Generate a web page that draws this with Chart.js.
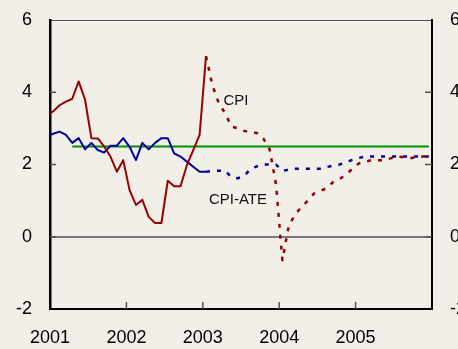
<!DOCTYPE html>
<html>
<head>
<meta charset="utf-8">
<script src="https://cdn.jsdelivr.net/npm/chart.js@4.4.1/dist/chart.umd.min.js"></script>
<style>
  html, body { margin: 0; padding: 0; background: #f2efe9; overflow: hidden; }
  #wrap { width: 458px; height: 349px; }
</style>
</head>
<body>
<div id="wrap"><canvas id="grafico" width="458" height="349"></canvas></div>
<script>
// 12-month inflation (%), monthly; first value is Dec 2000, last is Jan 2003
const cpi = [3.37, 3.47, 3.64, 3.74, 3.82, 4.30, 3.80, 2.73, 2.72, 2.50, 2.22, 1.80, 2.12,
             1.29, 0.88, 1.02, 0.55, 0.38, 0.38, 1.55, 1.40, 1.40, 1.98, 2.40, 2.82, 5.00];
const cpiAte = [2.78, 2.85, 2.91, 2.82, 2.60, 2.73, 2.42, 2.60, 2.40, 2.33, 2.52, 2.52, 2.73,
                2.49, 2.12, 2.60, 2.42, 2.60, 2.73, 2.73, 2.31, 2.22, 2.08, 1.94, 1.80, 1.80];

// projections, Jan 2003 to Dec 2005
const cpiProj = [5.00, 4.20, 3.70, 3.42, 3.05, 3.00, 2.93, 2.89, 2.87, 2.72, 2.42, 1.45,
                 -0.65, 0.30, 0.62, 0.82, 1.00, 1.20, 1.27, 1.35, 1.52, 1.60, 1.72, 1.88,
                 2.03, 2.08, 2.12, 2.12, 2.12, 2.17, 2.22, 2.20, 2.17, 2.20, 2.22, 2.22];
const cpiAteProj = [1.80, 1.82, 1.83, 1.83, 1.65, 1.62, 1.68, 1.88, 1.95, 2.00, 2.00, 2.00,
                    1.82, 1.86, 1.88, 1.88, 1.88, 1.88, 1.88, 1.93, 1.97, 2.00, 2.06, 2.13,
                    2.18, 2.22, 2.22, 2.22, 2.22, 2.22, 2.22, 2.22, 2.22, 2.22, 2.22, 2.22];

// inflation target, Apr 2001 to Dec 2005
const meta = [2.5, 2.5];

const anos = [2001, 2002, 2003, 2004, 2005];
const yTicks = [-2, 0, 2, 4, 6];

// month (1-12) -> decimal year, plotted mid-month
const pos = (ano, mes) => ano + (mes - 0.5) / 12;

function serie(valores, ano, mes) {
    return valores.map((v, i) => {
        const m = mes - 1 + i;
        return { x: pos(ano + Math.floor(m / 12), (m % 12) + 1), y: v };
    });
}

const vermelho = '#990000';
const azul = '#000099';
const verde = '#009000';

// text next to the lines, in data coordinates
const rotulos = [
    { text: 'CPI', x: 2003.27, y: 3.76 },
    { text: 'CPI-ATE', x: 2003.08, y: 1.02 }
];

// short tick marks pointing into the plot + line labels
const marcasInternas = {
    id: 'marcasInternas',
    afterDatasetsDraw(chart) {
        const { ctx, chartArea: a, scales } = chart;
        ctx.save();
        ctx.lineWidth = 1.5;
        ctx.strokeStyle = '#555';
        ctx.beginPath();
        anos.slice(1).forEach(v => {
            const x = scales.x.getPixelForValue(v);
            ctx.moveTo(x, a.bottom);
            ctx.lineTo(x, a.bottom - 7);
        });
        yTicks.slice(1, -1).forEach(v => {
            const y = scales.y.getPixelForValue(v);
            ctx.moveTo(a.left, y);
            ctx.lineTo(a.left + 6, y);
            ctx.moveTo(a.right, y);
            ctx.lineTo(a.right - 7, y);
        });
        ctx.stroke();

        ctx.font = '15px "Liberation Sans", Arial, sans-serif';
        ctx.fillStyle = '#111';
        ctx.textAlign = 'left';
        ctx.textBaseline = 'middle';
        rotulos.forEach(r => {
            ctx.fillText(r.text, scales.x.getPixelForValue(r.x), scales.y.getPixelForValue(r.y));
        });
        ctx.restore();
    }
};

Chart.defaults.font.family = '"Liberation Sans", Arial, sans-serif';

const fonteEixo = { size: 18 };

// fixed axis sizes; the label overhang must not push the plot area in
function larguraFixa(w) {
    return s => {
        s.width = w;
        s.paddingTop = 0;
        s.paddingBottom = 0;
    };
}
function alturaFixa(h) {
    return s => {
        s.height = h;
        s.paddingLeft = 0;
        s.paddingRight = 0;
    };
}

new Chart(document.getElementById('grafico'), {
    type: 'line',
    data: {
        datasets: [
            {
                data: serie(cpi, 2000, 12),
                borderColor: vermelho, borderWidth: 2, order: 1
            },
            {
                data: serie(cpiAte, 2000, 12),
                borderColor: azul, borderWidth: 2, order: 2
            },
            {
                data: serie(cpiProj, 2003, 1),
                borderColor: vermelho, borderWidth: 2.5, borderDash: [4, 7], order: 1
            },
            {
                data: serie(cpiAteProj, 2003, 1),
                borderColor: azul, borderWidth: 2.5, borderDash: [4, 7], order: 2
            },
            {
                data: [{ x: pos(2001, 4), y: meta[0] }, { x: pos(2005, 12), y: meta[1] }],
                borderColor: verde, borderWidth: 2, order: 3
            }
        ]
    },
    options: {
        responsive: false,
        animation: false,
        events: [],
        layout: { padding: 0 },
        datasets: {
            line: {
                pointRadius: 0, tension: 0, clip: 0,
                borderCapStyle: 'butt', borderJoinStyle: 'round'
            }
        },
        plugins: {
            legend: { display: false },
            tooltip: { enabled: false }
        },
        scales: {
            x: {
                type: 'linear',
                position: 'bottom',
                min: 2001,
                max: 2006,
                afterBuildTicks: s => { s.ticks = anos.map(v => ({ value: v })); },
                afterFit: alturaFixa(40),
                grid: { display: false, drawTicks: false },
                border: { color: '#000', width: 2 },
                ticks: {
                    padding: 18, color: '#000', font: fonteEixo,
                    autoSkip: false, maxRotation: 0,
                    callback: v => String(v)
                }
            },
            // only draws the thin frame line along the top
            xTop: {
                type: 'linear',
                position: 'top',
                min: 2001,
                max: 2006,
                afterFit: alturaFixa(20),
                grid: { display: false, drawTicks: false },
                border: { color: '#555', width: 1 },
                ticks: { display: false }
            },
            y: {
                position: 'left',
                min: -2,
                max: 6,
                afterBuildTicks: s => { s.ticks = yTicks.map(v => ({ value: v })); },
                afterFit: larguraFixa(50),
                grid: {
                    drawTicks: false,
                    lineWidth: 2,
                    color: c => (c.tick && c.tick.value === 0) ? '#7a7a7a' : 'rgba(0,0,0,0)'
                },
                border: { color: '#000', width: 2.5 },
                ticks: { padding: 18, color: '#000', font: fonteEixo }
            },
            y2: {
                position: 'right',
                min: -2,
                max: 6,
                afterBuildTicks: s => { s.ticks = yTicks.map(v => ({ value: v })); },
                afterFit: larguraFixa(26),
                grid: { display: false, drawTicks: false },
                border: { color: '#000', width: 2 },
                ticks: { padding: 18, color: '#000', font: fonteEixo }
            }
        }
    },
    plugins: [marcasInternas]
});
</script>
</body>
</html>
